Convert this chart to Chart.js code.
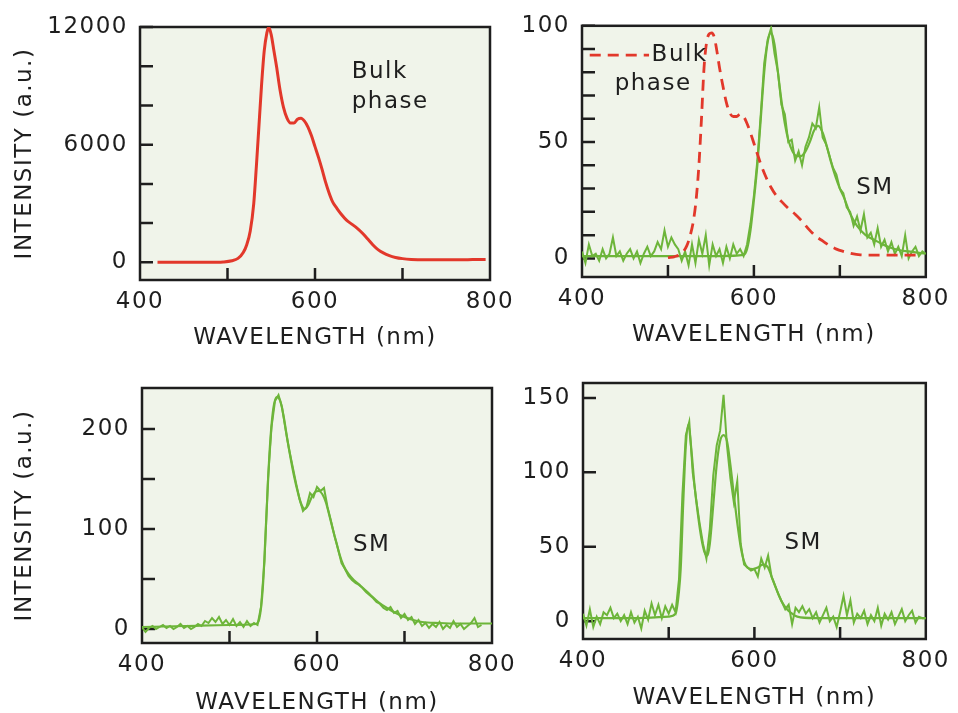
<!DOCTYPE html>
<html>
<head>
<meta charset="utf-8">
<script src="https://cdn.jsdelivr.net/npm/chart.js@4.4.0/dist/chart.umd.min.js"></script>
<style>
  html, body { margin: 0; padding: 0; background: #fff; overflow: hidden; }
  #wrap { position: relative; width: 958px; height: 713px; overflow: hidden; }
  #wrap canvas { position: absolute; left: 0; top: 0; }
</style>
</head>
<body>
<div id="wrap">
  <canvas id="c1" width="958" height="740"></canvas>
  <canvas id="c2" width="958" height="740"></canvas>
  <canvas id="c3" width="958" height="740"></canvas>
  <canvas id="c4" width="958" height="740"></canvas>
</div>
<script>
// ---- data ----
const xLabels = [400, 600, 800];
const xMinor = [500, 600, 700];

// bulk phase spectrum, top-left panel
const wlBulk = [420,440,460,480,495,505,512,518,522,526,530,533,536,539,542,545,547,550,553,556,560,564,568,572,576,580,584,588,592,596,600,604,608,612,616,620,625,630,636,642,648,654,660,666,672,678,685,692,700,710,725,740,760,780,795];
const bulkInt = [0,0,0,0,20,80,200,500,900,1600,3000,4900,7000,9100,10800,11700,12000,11600,10800,10000,8800,7900,7350,7100,7100,7300,7350,7200,6900,6450,5900,5350,4750,4100,3550,3100,2750,2450,2150,1950,1750,1500,1200,900,650,480,340,250,190,150,130,130,130,140,150];

// bulk phase normalised, top-right panel (dashed)
const wlBulkN = [500,508,513,518,522,526,530,533,536,539,542,545,548,551,554,557,560,564,568,572,576,580,584,588,592,596,600,604,608,614,620,626,632,640,648,656,664,672,680,688,696,704,712,724,740,760,780,795];
const bulkNorm = [0.3,0.8,1.5,3,5.5,10,17,26,40,60,82,93,96.5,97,95,89,82,74,67,62.5,61,61,62,61,58,54,49.5,45,40.5,35,30.5,27,24.5,21.5,19,16,12.5,9.5,7.5,5.5,4,3,2.2,1.5,1.4,1.4,1.4,1.4];

// raw single-molecule spectra share one wavelength grid
const wlRaw = [400,404,408,412,416,420,424,428,432,436,440,444,448,452,456,460,464,468,472,476,480,484,488,492,496,500,504,508,512,516,520,524,528,532,536,540,544,548,552,556,560,564,568,572,576,580,584,588,592,596,600,604,608,612,616,620,624,628,632,636,640,644,648,652,656,660,664,668,672,676,680,684,688,692,696,700,704,708,712,716,720,724,728,732,736,740,744,748,752,756,760,764,768,772,776,780,784,788,792,796,800];

const sm2Raw = [
  3,-2,6,1,2,-1,4,0,2,9,
  1,3,-1,2,4,0,3,-2,2,5,
  1,3,7,4,12,5,9,6,4,-1,
  3,-3,6,-2,8,2,10,-3,6,1,
  4,-2,5,0,6,2,4,1,6,15,
  27,42,62,84,94,99,88,80,66,62,
  50,51,42,46,40,48,52,58,56,65,
  52,49,44,39,36,30,28,22,20,14,
  18,12,19,9,11,6,13,5,8,3,
  7,2,5,1,10,0,3,5,1,3,
  2];
const wlSm2 = [400,450,500,560,588,592,596,600,604,608,612,616,620,624,628,632,636,640,645,650,655,660,665,670,675,680,685,690,695,700,705,710,715,720,730,740,750,760,770,780,790,800];
const sm2Fit = [1,1,1,1,1.5,4,12,25,40,60,80,93,97,92,80,68,58,51,46,44,44,46,50,55,57,54,48,41,35,30,26,21,17,14,10,8,6,4.5,3.5,3,2.5,2];

const sm3Raw = [
  2,-3,1,3,0,2,4,1,3,0,
  2,5,1,3,0,2,5,3,8,6,
  11,7,12,5,9,4,10,3,7,2,
  8,3,6,4,22,68,150,202,228,234,
  222,200,180,163,146,130,118,122,136,132,
  142,138,141,122,108,93,80,66,60,53,
  49,46,44,41,37,34,31,27,25,21,
  19,22,16,18,11,15,9,12,5,9,
  3,6,1,5,2,7,0,4,1,8,
  2,5,0,3,6,11,2,4];
const wlSm3 = [400,450,500,530,534,538,542,546,550,554,558,562,566,570,574,578,582,586,590,594,598,602,606,610,614,618,622,626,630,636,642,650,660,670,680,690,700,710,720,740,760,780,800];
const sm3Fit = [2,3,4,5,10,40,110,180,220,232,228,212,190,170,152,137,125,120,124,132,137,138,135,127,114,100,87,74,64,55,49,43,35,27,21,16,12,9,7,6,5.5,5.5,5.5];

const sm4Raw = [
  5,-3,8,-4,3,-2,6,4,9,2,
  5,0,4,-2,6,-1,3,-5,7,1,
  12,4,11,2,10,5,11,6,28,85,
  125,134,100,82,66,52,42,62,98,118,
  128,152,118,96,80,94,52,38,36,34,
  35,30,42,36,44,30,24,18,13,8,
  11,-2,9,6,10,5,8,2,6,-1,
  4,9,0,3,-4,6,17,4,14,-1,
  5,2,7,-2,4,0,9,-3,5,1,
  6,-2,3,8,0,4,7,-1,3,2,
  2];
const wlSm4 = [400,460,500,508,512,514,517,520,523,526,530,534,538,542,545,548,552,556,560,564,568,572,576,580,584,588,592,598,604,610,616,620,626,632,638,644,650,670,700,750,800];
const sm4Fit = [2,2,3,5,20,35,80,118,132,118,92,72,56,46,44,52,78,105,121,125,121,105,85,66,50,40,36,35,36,38,36,30,21,13,8,5,3,2,2,2,2];

// ---- style ----
const W = 958, H = 740;
const INK = '#1e1e1e';
const BG = '#f0f4ea';
const RED = '#e2382b';
const GREEN = '#6db53a';
const FAMILY = '"DejaVu Sans", Verdana, sans-serif';
const FONT = { family: FAMILY, size: 23 };
const SPACING = '1.5px';

function pts(xs, ys) { return ys.map((y, i) => ({ x: xs[i], y: y })); }

const framePlugin = {
  id: 'frame',
  beforeUpdate(chart) { chart.ctx.letterSpacing = SPACING; },
  beforeDraw(chart) {
    const { ctx, chartArea: a } = chart;
    ctx.letterSpacing = SPACING;
    ctx.save();
    ctx.fillStyle = BG;
    ctx.fillRect(a.left, a.top, a.width, a.height);
    ctx.restore();
  },
  beforeDatasetsDraw(chart, args, opts) {
    const { ctx, chartArea: a, scales: { x, y } } = chart;
    ctx.save();
    ctx.strokeStyle = INK;
    ctx.lineWidth = 2.5;
    ctx.beginPath();
    opts.yTicks.forEach(v => {
      const p = y.getPixelForValue(v);
      ctx.moveTo(a.left, p); ctx.lineTo(a.left + 13, p);
    });
    xMinor.forEach(v => {
      const p = x.getPixelForValue(v);
      ctx.moveTo(p, a.bottom); ctx.lineTo(p, a.bottom - 12);
    });
    ctx.stroke();
    ctx.strokeRect(a.left, a.top, a.width, a.height);
    ctx.restore();
  },
  afterDatasetsDraw(chart, args, opts) {
    const { ctx, scales: { x, y } } = chart;
    ctx.save();
    if (opts.key) {
      ctx.strokeStyle = RED;
      ctx.lineWidth = 2.8;
      ctx.setLineDash([11, 7]);
      ctx.beginPath();
      ctx.moveTo(x.getPixelForValue(opts.key.x0), y.getPixelForValue(opts.key.y));
      ctx.lineTo(x.getPixelForValue(opts.key.x1), y.getPixelForValue(opts.key.y));
      ctx.stroke();
      ctx.setLineDash([]);
    }
    ctx.font = '23px ' + FAMILY;
    ctx.fillStyle = INK;
    ctx.textAlign = 'left';
    ctx.textBaseline = 'middle';
    (opts.notes || []).forEach(n => {
      ctx.fillText(n.text, x.getPixelForValue(n.x), y.getPixelForValue(n.y));
    });
    ctx.restore();
  }
};

function panel(id, p) {
  const yW = p.yTitle ? p.box.l - 11 : 60;
  const xH = p.xTitleY + 14 - p.box.b;
  return new Chart(document.getElementById(id), {
    type: 'line',
    data: { datasets: p.datasets },
    plugins: [framePlugin],
    options: {
      responsive: false,
      animation: false,
      layout: { padding: { left: p.box.l - yW, top: p.box.t, right: W - p.box.r, bottom: H - p.box.b - xH } },
      elements: { point: { radius: 0 } },
      plugins: {
        legend: { display: false },
        tooltip: { enabled: false },
        frame: { yTicks: p.yMinor, notes: p.notes, key: p.key }
      },
      scales: {
        x: {
          type: 'linear', min: 400, max: 800,
          grid: { display: false, drawTicks: false },
          border: { display: false },
          afterBuildTicks: s => { s.ticks = xLabels.map(v => ({ value: v })); },
          afterFit: s => { s.height = xH; },
          ticks: { color: INK, font: FONT, padding: 8, maxRotation: 0, autoSkip: false, callback: v => String(v) },
          title: { display: true, text: 'WAVELENGTH (nm)', color: INK, font: FONT, padding: 0 }
        },
        y: {
          type: 'linear', min: p.yMin, max: p.yMax,
          grid: { display: false, drawTicks: false },
          border: { display: false },
          afterBuildTicks: s => { s.ticks = p.yLabels.map(v => ({ value: v })); },
          afterFit: s => { s.width = yW; },
          ticks: { color: INK, font: FONT, padding: 12, autoSkip: false, callback: v => String(v) },
          title: { display: !!p.yTitle, text: 'INTENSITY (a.u.)', color: INK, font: FONT, padding: 0 }
        }
      }
    }
  });
}

const smooth = { cubicInterpolationMode: 'monotone', tension: 0.4 };

panel('c1', {
  box: { l: 140, t: 27, r: 490, b: 280 }, xTitleY: 338, yTitle: true,
  yMin: -900, yMax: 12000,
  yMinor: [0, 2000, 4000, 6000, 8000, 10000, 12000], yLabels: [0, 6000, 12000],
  notes: [{ text: 'Bulk', x: 642, y: 9700 }, { text: 'phase', x: 642, y: 8170 }],
  datasets: [
    Object.assign({ label: 'Bulk phase', data: pts(wlBulk, bulkInt), borderColor: RED, borderWidth: 3 }, smooth)
  ]
});

panel('c2', {
  box: { l: 582, t: 23, r: 930, b: 277 }, xTitleY: 335, yTitle: false,
  yMin: -8, yMax: 100,
  yMinor: [0, 10, 20, 30, 40, 50, 60, 70, 80, 90, 100], yLabels: [0, 50, 100],
  key: { x0: 409, x1: 478, y: 87.4 },
  notes: [{ text: 'Bulk', x: 481, y: 87.4 }, { text: 'phase', x: 438, y: 75 }, { text: 'SM', x: 719, y: 30.3 }],
  datasets: [
    Object.assign({ label: 'Bulk phase', data: pts(wlBulkN, bulkNorm), borderColor: RED, borderWidth: 2.8, borderDash: [11, 7] }, smooth),
    { label: 'SM', data: pts(wlRaw, sm2Raw), borderColor: GREEN, borderWidth: 2 },
    Object.assign({ label: 'SM fit', data: pts(wlSm2, sm2Fit), borderColor: GREEN, borderWidth: 2.2 }, smooth)
  ]
});

panel('c3', {
  box: { l: 142, t: 388, r: 492, b: 643 }, xTitleY: 703, yTitle: true,
  yMin: -14, yMax: 241,
  yMinor: [0, 50, 100, 150, 200], yLabels: [0, 100, 200],
  notes: [{ text: 'SM', x: 641, y: 84 }],
  datasets: [
    { label: 'SM', data: pts(wlRaw, sm3Raw), borderColor: GREEN, borderWidth: 2 },
    Object.assign({ label: 'SM fit', data: pts(wlSm3, sm3Fit), borderColor: GREEN, borderWidth: 2.2 }, smooth)
  ]
});

panel('c4', {
  box: { l: 583, t: 383, r: 932, b: 639 }, xTitleY: 698, yTitle: false,
  yMin: -12, yMax: 160,
  yMinor: [0, 50, 100, 150], yLabels: [0, 50, 100, 150],
  notes: [{ text: 'SM', x: 635, y: 52.5 }],
  datasets: [
    { label: 'SM', data: pts(wlRaw, sm4Raw), borderColor: GREEN, borderWidth: 2 },
    Object.assign({ label: 'SM fit', data: pts(wlSm4, sm4Fit), borderColor: GREEN, borderWidth: 2.2 }, smooth)
  ]
});
</script>
</body>
</html>
